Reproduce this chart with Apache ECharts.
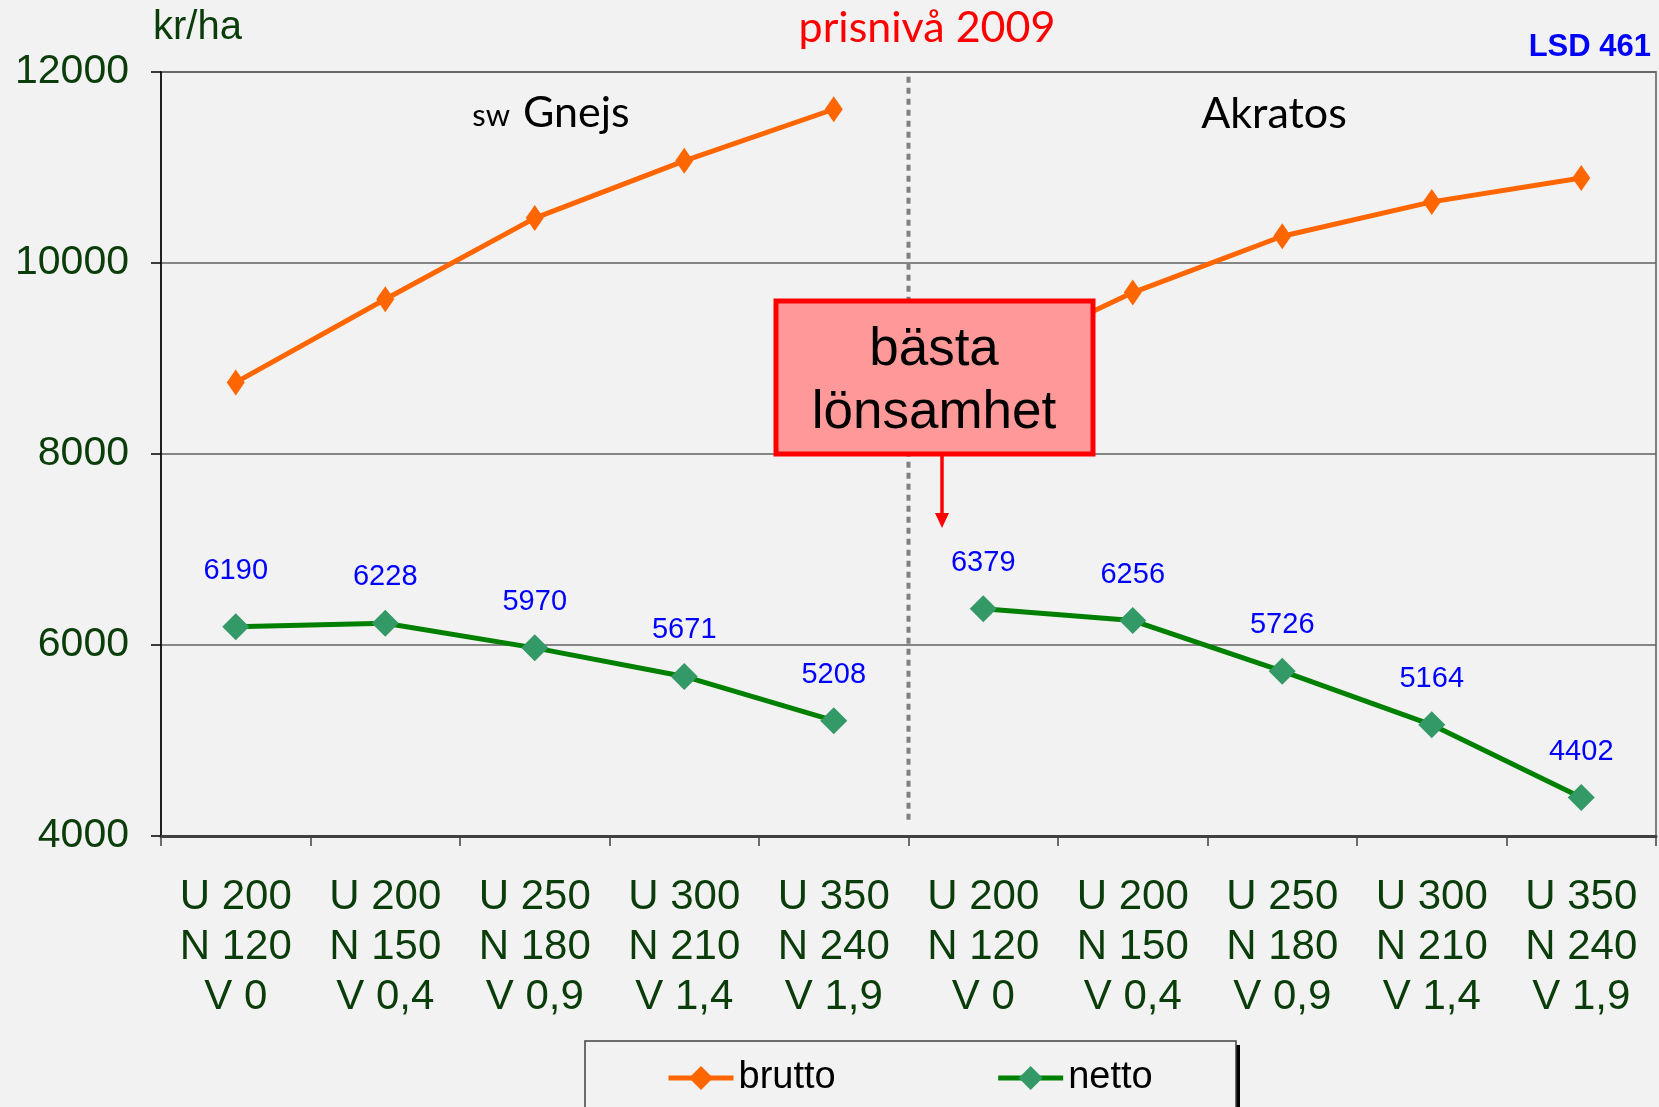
<!DOCTYPE html>
<html>
<head>
<meta charset="utf-8">
<script src="https://cdn.jsdelivr.net/npm/echarts@6/dist/echarts.min.js"></script>
<style>
html,body{margin:0;padding:0;background:#f2f2f2;}
#c{width:1659px;height:1107px;}
</style>
</head>
<body>
<div id="c"></div>
<script>
// ---- data ----
const categories = [
  'U 200\nN 120\nV 0', 'U 200\nN 150\nV 0,4', 'U 250\nN 180\nV 0,9', 'U 300\nN 210\nV 1,4', 'U 350\nN 240\nV 1,9',
  'U 200\nN 120\nV 0', 'U 200\nN 150\nV 0,4', 'U 250\nN 180\nV 0,9', 'U 300\nN 210\nV 1,4', 'U 350\nN 240\nV 1,9'
];
const bruttoGnejs   = [8750, 9620, 10470, 11070, 11610];
const bruttoAkratos = [8950, 9690, 10280, 10640, 10890];
const nettoGnejs    = [6190, 6228, 5970, 5671, 5208];
const nettoAkratos  = [6379, 6256, 5726, 5164, 4402];
const yTicks = {min: 4000, max: 12000, interval: 2000};
const dividerX = 5;             // boundary between the two varieties (in category units)
const dividerY = [4170, 12000];

const ARIAL = "'Liberation Sans',Arial,sans-serif";
const CAL = "Lato,'Open Sans',sans-serif";

const pad = n => new Array(n).fill(null);
const first = arr => arr.concat(pad(5));
const second = arr => pad(5).concat(arr);

const chart = echarts.init(document.getElementById('c'), null, {renderer: 'canvas'});

const bruttoStyle = {
  type: 'line', name: 'brutto', symbol: 'diamond', symbolSize: [18, 26],
  lineStyle: {color: '#ff6600', width: 5},
  itemStyle: {color: '#ff6600'},
  z: 3
};
const nettoLabel = {show: true, position: 'top', distance: 18, color: '#0000ff', fontSize: 29, fontFamily: ARIAL};
const nettoStyle = {
  type: 'line', name: 'netto', symbol: 'diamond', symbolSize: [27, 27],
  lineStyle: {color: '#008000', width: 5},
  itemStyle: {color: '#339966'},
  label: nettoLabel,
  z: 3
};
// first label of the Gnejs netto series sits a little higher in the original
const nettoGnejsItems = first(nettoGnejs).map((v, i) =>
  i === 0 ? {value: v, label: {distance: 28}} : v);

chart.setOption({
  backgroundColor: '#f2f2f2',
  animation: false,
  grid: {left: 161, right: 3, top: 72, bottom: 271, outerBoundsMode: 'none', containLabel: false,
         show: true, borderColor: '#808080', borderWidth: 2, backgroundColor: 'transparent'},
  legend: {
    data: ['brutto', 'netto'],
    left: 661, top: 1054,
    itemWidth: 65, itemHeight: 30, itemGap: 160,
    lineStyle: {width: 5},
    textStyle: {fontSize: 38, fontFamily: ARIAL, color: '#000'}
  },
  xAxis: [{
    type: 'category', data: categories, boundaryGap: true,
    axisLine: {lineStyle: {color: '#404040', width: 3}},
    axisTick: {show: true, interval: 0, length: 10, lineStyle: {color: '#404040', width: 1.5}},
    axisLabel: {interval: 0, color: '#0b3d0b', fontSize: 42, fontFamily: ARIAL, lineHeight: 50, margin: 36}
  }, {
    type: 'value', min: 0, max: 10, show: false
  }],
  yAxis: {
    type: 'value', min: yTicks.min, max: yTicks.max, interval: yTicks.interval,
    axisLine: {show: true, lineStyle: {color: '#000', width: 1.5}},
    axisTick: {show: true, length: 10, lineStyle: {color: '#000', width: 1.5}},
    axisLabel: {color: '#0b3d0b', fontSize: 41, fontFamily: ARIAL, margin: 32, formatter: v => String(v)},
    splitLine: {show: true, lineStyle: {color: '#606060', width: 1.5}}
  },
  series: [
    Object.assign({data: first(bruttoGnejs)}, bruttoStyle),
    Object.assign({data: second(bruttoAkratos)}, bruttoStyle),
    Object.assign({data: nettoGnejsItems}, nettoStyle),
    Object.assign({data: second(nettoAkratos)}, nettoStyle),
    {
      type: 'line', name: 'divider', xAxisIndex: 1, silent: true, symbol: 'none',
      data: [[dividerX, dividerY[0]], [dividerX, dividerY[1]]],
      lineStyle: {color: '#808080', width: 4, type: [6, 5]}, z: 2
    }
  ],
  graphic: [
    {type: 'text', x: 153, y: 28, style: {text: 'kr/ha', fontSize: 40, fontFamily: ARIAL, fill: '#0b3d0b', verticalAlign: 'middle'}},
    {type: 'text', x: 927, y: 28, style: {text: 'prisnivå 2009', fontSize: 43, fontFamily: CAL, fill: '#ff0000', align: 'center', verticalAlign: 'middle'}},
    {type: 'text', x: 1651, y: 47, style: {text: 'LSD 461', fontSize: 31, fontWeight: 'bold', fontFamily: ARIAL, fill: '#0000ff', align: 'right', verticalAlign: 'middle'}},
    {type: 'text', x: 510, y: 131, style: {text: 'sw', fontSize: 31, fontFamily: CAL, fill: '#000', align: 'right', verticalAlign: 'bottom'}},
    {type: 'text', x: 523, y: 135, style: {text: 'Gnejs', fontSize: 43, fontFamily: CAL, fill: '#000', align: 'left', verticalAlign: 'bottom'}},
    {type: 'text', x: 1274, y: 114, style: {text: 'Akratos', fontSize: 43, fontFamily: CAL, fill: '#000', align: 'center', verticalAlign: 'middle'}},
    // annotation box
    {type: 'rect', shape: {x: 776, y: 301, width: 317, height: 153}, style: {fill: '#ff9999', stroke: '#ff0000', lineWidth: 5}, z: 10},
    {type: 'text', x: 934, y: 350, style: {text: 'bästa', fontSize: 53, fontFamily: ARIAL, fill: '#000', align: 'center', verticalAlign: 'middle'}, z: 11},
    {type: 'text', x: 934, y: 413, style: {text: 'lönsamhet', fontSize: 53, fontFamily: ARIAL, fill: '#000', align: 'center', verticalAlign: 'middle'}, z: 11},
    {type: 'line', shape: {x1: 942, y1: 456, x2: 942, y2: 520}, style: {stroke: '#ff0000', lineWidth: 3.5}, z: 10},
    {type: 'polygon', shape: {points: [[935, 513], [942, 528], [949, 513]]}, style: {fill: '#ff0000'}, z: 10},
    // legend box
    {type: 'rect', shape: {x: 1236, y: 1045, width: 4, height: 80}, style: {fill: '#000'}, z: 1},
    {type: 'rect', shape: {x: 585, y: 1041, width: 651, height: 100}, style: {fill: 'none', stroke: '#404040', lineWidth: 1.5}, z: 1}
  ]
});
</script>
</body>
</html>
